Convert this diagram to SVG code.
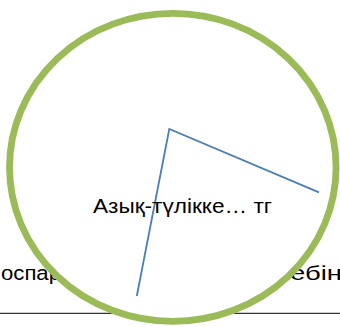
<svg xmlns="http://www.w3.org/2000/svg" width="340" height="327" viewBox="0 0 340 327">
  <style>
    .t { font-family: "Liberation Sans", Arial, sans-serif; font-size: 20.5px; fill: #000; }
    .c { font-family: "Liberation Sans", Arial, sans-serif; font-size: 19.5px; fill: #000; }
    .conn { fill: none; stroke: #4a7ebb; stroke-width: 1.8; stroke-linejoin: miter; }
  </style>
  <rect width="340" height="327" fill="#fff"/>
  <g id="background-text">
    <text class="t" x="1" y="280" textLength="60" lengthAdjust="spacingAndGlyphs">оспар</text>
    <text class="t" x="290" y="280" textLength="52" lengthAdjust="spacingAndGlyphs">ебін</text>
    <line x1="0" y1="313.3" x2="340" y2="313.3" stroke="#000" stroke-width="1"/>
  </g>
  <g id="circle-node">
    <ellipse cx="172.8" cy="167.3" rx="163.3" ry="154" fill="#fff" stroke="#9bbb59" stroke-width="6.8"/>
  </g>
  <g id="connectors">
    <polyline class="conn" points="136.8,296 169.3,129 319,192.3"/>
  </g>
  <g id="label">
    <text class="c" x="93" y="213.3" textLength="179" lengthAdjust="spacingAndGlyphs">Азық-түлікке… тг</text>
  </g>
</svg>
